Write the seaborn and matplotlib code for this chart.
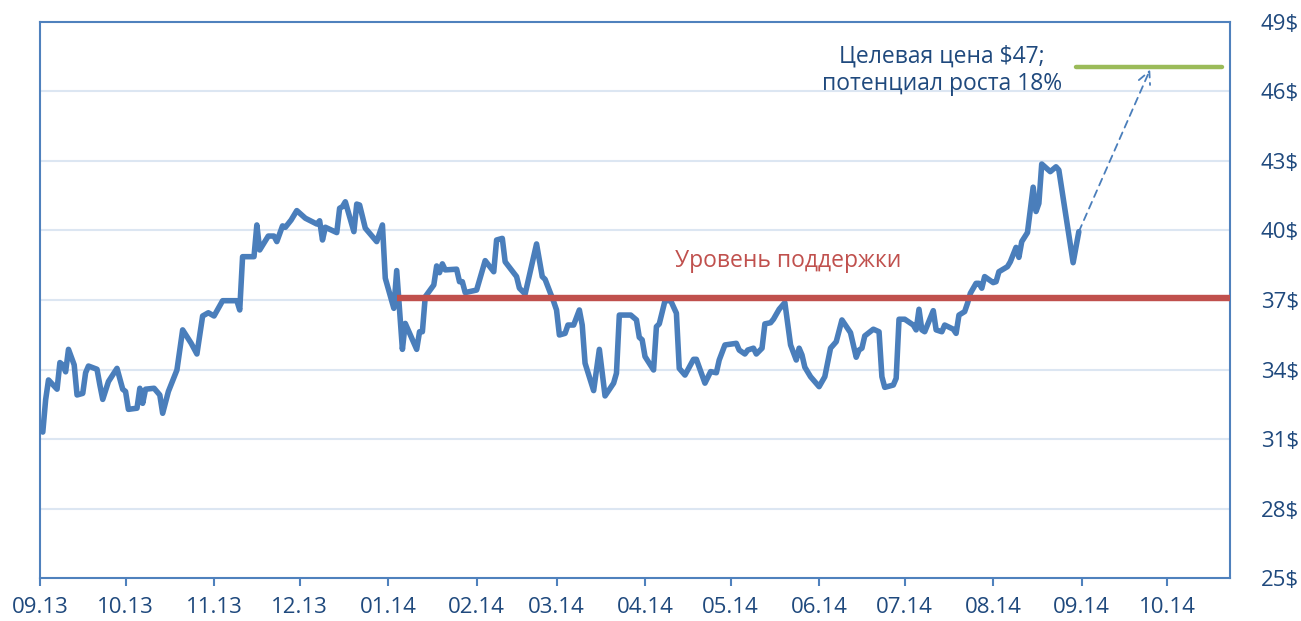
import pandas as pd
import seaborn as sns
import matplotlib.pyplot as plt
import matplotlib.dates as mdates

# Цена акции
dates = [
    "2013-09-02", "2013-09-03", "2013-09-04", "2013-09-07", "2013-09-08", "2013-09-09", "2013-09-10", "2013-09-11", "2013-09-13", "2013-09-14",
    "2013-09-16", "2013-09-17", "2013-09-18", "2013-09-21", "2013-09-22", "2013-09-23", "2013-09-25", "2013-09-28", "2013-09-30", "2013-10-01",
    "2013-10-02", "2013-10-05", "2013-10-06", "2013-10-07", "2013-10-08", "2013-10-11", "2013-10-13", "2013-10-14", "2013-10-16", "2013-10-19",
    "2013-10-21", "2013-10-24", "2013-10-26", "2013-10-28", "2013-10-30", "2013-11-01", "2013-11-04", "2013-11-09", "2013-11-10", "2013-11-11",
    "2013-11-15", "2013-11-16", "2013-11-17", "2013-11-20", "2013-11-22", "2013-11-23", "2013-11-25", "2013-11-26", "2013-11-28", "2013-11-30",
    "2013-12-03", "2013-12-07", "2013-12-08", "2013-12-09", "2013-12-10", "2013-12-14", "2013-12-15", "2013-12-16", "2013-12-17", "2013-12-20",
    "2013-12-21", "2013-12-22", "2013-12-24", "2013-12-28", "2013-12-30", "2013-12-31", "2014-01-03", "2014-01-04", "2014-01-06", "2014-01-07",
    "2014-01-11", "2014-01-12", "2014-01-13", "2014-01-14", "2014-01-17", "2014-01-18", "2014-01-19", "2014-01-20", "2014-01-21", "2014-01-25",
    "2014-01-26", "2014-01-27", "2014-01-28", "2014-02-01", "2014-02-04", "2014-02-07", "2014-02-08", "2014-02-10", "2014-02-11", "2014-02-15",
    "2014-02-16", "2014-02-18", "2014-02-22", "2014-02-24", "2014-02-25", "2014-02-28", "2014-03-01", "2014-03-02", "2014-03-04", "2014-03-05",
    "2014-03-07", "2014-03-09", "2014-03-10", "2014-03-11", "2014-03-14", "2014-03-16", "2014-03-18", "2014-03-21", "2014-03-22", "2014-03-23",
    "2014-03-27", "2014-03-29", "2014-03-30", "2014-03-31", "2014-04-01", "2014-04-04", "2014-04-05", "2014-04-06", "2014-04-08", "2014-04-10",
    "2014-04-12", "2014-04-13", "2014-04-15", "2014-04-18", "2014-04-19", "2014-04-22", "2014-04-24", "2014-04-26", "2014-04-27", "2014-04-29",
    "2014-05-03", "2014-05-04", "2014-05-06", "2014-05-07", "2014-05-09", "2014-05-10", "2014-05-12", "2014-05-13", "2014-05-15", "2014-05-16",
    "2014-05-18", "2014-05-20", "2014-05-22", "2014-05-24", "2014-05-25", "2014-05-26", "2014-05-27", "2014-05-29", "2014-06-01", "2014-06-03",
    "2014-06-04", "2014-06-05", "2014-06-07", "2014-06-09", "2014-06-12", "2014-06-14", "2014-06-15", "2014-06-16", "2014-06-17", "2014-06-20",
    "2014-06-22", "2014-06-23", "2014-06-24", "2014-06-27", "2014-06-28", "2014-06-29", "2014-07-01", "2014-07-04", "2014-07-05", "2014-07-06",
    "2014-07-07", "2014-07-08", "2014-07-11", "2014-07-12", "2014-07-14", "2014-07-15", "2014-07-18", "2014-07-19", "2014-07-20", "2014-07-22",
    "2014-07-23", "2014-07-24", "2014-07-26", "2014-07-27", "2014-07-28", "2014-07-29", "2014-08-01", "2014-08-02", "2014-08-03", "2014-08-06",
    "2014-08-07", "2014-08-09", "2014-08-10", "2014-08-11", "2014-08-13", "2014-08-15", "2014-08-16", "2014-08-17", "2014-08-18", "2014-08-21",
    "2014-08-23", "2014-08-24", "2014-08-29", "2014-08-31",
]
prices = [
    31.3, 32.7, 33.55, 33.15, 34.3, 34.2, 33.9, 34.87, 34.2, 32.9,
    32.97, 33.86, 34.15, 34.01, 33.33, 32.71, 33.48, 34.05, 33.15, 33.05,
    32.28, 32.33, 33.19, 32.54, 33.15, 33.19, 32.9, 32.11, 33.05, 33.98,
    35.71, 35.13, 34.67, 36.31, 36.45, 36.31, 36.97, 36.97, 36.57, 38.87,
    38.87, 40.24, 39.16, 39.76, 39.76, 39.52, 40.2, 40.14, 40.45, 40.86,
    40.53, 40.28, 40.42, 39.59, 40.14, 39.91, 40.96, 41.03, 41.24, 39.95,
    41.14, 41.1, 40.1, 39.52, 40.24, 37.94, 36.64, 38.27, 34.87, 35.99,
    34.87, 35.63, 35.63, 37.14, 37.65, 38.47, 38.18, 38.56, 38.3, 38.33,
    37.79, 37.79, 37.32, 37.43, 38.7, 38.22, 39.59, 39.66, 38.65, 38.01,
    37.51, 37.26, 39.42, 38.01, 37.89, 36.93, 36.57, 35.49, 35.56, 35.92,
    35.92, 36.57, 35.92, 34.27, 33.09, 34.87, 32.86, 33.41, 33.84, 36.35,
    36.35, 36.14, 35.39, 35.28, 34.56, 33.98, 35.85, 35.97, 36.97, 36.97,
    36.43, 34.05, 33.76, 34.44, 34.44, 33.41, 33.91, 33.86, 34.41, 35.06,
    35.13, 34.84, 34.67, 34.84, 34.92, 34.67, 34.92, 35.97, 36.02, 36.17,
    36.6, 36.89, 35.06, 34.41, 34.92, 34.63, 34.1, 33.69, 33.26, 33.69,
    34.3, 34.92, 35.2, 36.14, 35.59, 34.53, 34.84, 34.92, 35.45, 35.74,
    35.63, 33.69, 33.23, 33.33, 33.62, 36.17, 36.17, 35.92, 35.71, 36.6,
    35.71, 35.63, 36.54, 35.71, 35.63, 35.92, 35.74, 35.56, 36.35, 36.5,
    36.86, 37.29, 37.72, 37.72, 37.51, 38.01, 37.75, 37.79, 38.22, 38.44,
    38.65, 39.27, 38.84, 39.52, 39.91, 41.87, 40.82, 41.17, 42.87, 42.54,
    42.75, 42.61, 38.61, 39.95,
]

# Уровень поддержки и целевая цена
support_level = 37.1
support_start = "2014-01-04"
target_price = 47.05
target_start = "2014-08-30"
target_end = "2014-10-20"
arrow_tip_date = "2014-09-25"

x_start = "2013-09-01"
x_end = "2014-10-23"
y_ticks = [25, 28, 31, 34, 37, 40, 43, 46, 49]

df = pd.DataFrame({"Дата": pd.to_datetime(dates), "Цена": prices})

sns.set_style("white")
plt.rcParams["font.family"] = ["Open Sans", "DejaVu Sans"]

blue = "#4A7EBB"
navy = "#1F497D"
spine_c = "#4F81BD"

fig, ax = plt.subplots(figsize=(13.01, 6.21), dpi=100)
fig.subplots_adjust(left=0.0307, right=0.9455, top=0.9646, bottom=0.0692)

for y in y_ticks[1:-1]:
    ax.axhline(y, color="#DCE6F2", lw=1.5, zorder=0)

sns.lineplot(data=df, x="Дата", y="Цена", color=blue, lw=4.0, ax=ax, zorder=3)

ax.hlines(support_level, pd.Timestamp(support_start), pd.Timestamp(x_end),
          color="#C0504D", lw=4.6, zorder=4)
ax.hlines(target_price, pd.Timestamp(target_start), pd.Timestamp(target_end),
          color="#9BBB59", lw=3.2, capstyle="round", zorder=4)

last = df.iloc[-1]
ax.annotate("", xy=(pd.Timestamp(arrow_tip_date), target_price - 0.1),
            xytext=(last["Дата"], last["Цена"]),
            arrowprops=dict(arrowstyle="->", color=blue, lw=1.3, ls=(0, (4, 3)),
                            shrinkA=0, shrinkB=0, mutation_scale=22))

ax.text(pd.Timestamp("2014-05-21"), 38.68, "Уровень поддержки", color="#C0504D",
        fontsize=16.5, ha="center", va="center")
ax.text(pd.Timestamp("2014-07-14"), 46.9, "Целевая цена $47;\nпотенциал роста 18%",
        color=navy, fontsize=16.5, ha="center", va="center", linespacing=1.2)

ax.set_xlim(pd.Timestamp(x_start), pd.Timestamp(x_end))
ax.set_ylim(25, 49)
ax.set_yticks(y_ticks)
ax.set_yticklabels([f"{v}$" for v in y_ticks])
ax.yaxis.tick_right()
ax.tick_params(axis="y", length=0, pad=22, labelsize=16, labelcolor=navy)

ax.xaxis.set_major_locator(mdates.MonthLocator())
ax.xaxis.set_major_formatter(mdates.DateFormatter("%m.%y"))
ax.tick_params(axis="x", length=6, width=1.5, color=spine_c, pad=8,
               labelsize=16, labelcolor=navy, direction="out", bottom=True)

ax.set_xlabel("")
ax.set_ylabel("")
for s in ax.spines.values():
    s.set_visible(True)
    s.set_color(spine_c)
    s.set_linewidth(1.5)

fig.savefig("out.png", dpi=100)
